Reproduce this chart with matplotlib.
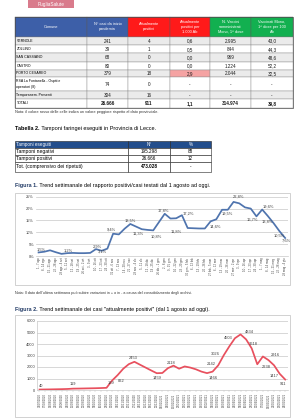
import numpy as np
import matplotlib.pyplot as plt
import pandas as pd
from matplotlib.patches import Rectangle

plt.rcParams['font.family'] = ['Liberation Sans', 'DejaVu Sans']

# ---- table 1 ----
hdr1 = ["Comune", "N° casi da inizio\npandemia", "Attualmente\npositivi",
        "Attualmente\npositivi per\n1.000 Ab", "N. Vaccini\nsomministrati\nMono, 1^ dose",
        "Vaccinati Mono,\n1^ dose per 100\nAb"]
comuni = ["VERNOLE", "ZOLLINO", "SAN CASSIANO", "CASTRO", "PORTO CESAREO",
          "RSA La Fontanella - Ospiti e\noperatori (8)", "Temporanem. Presenti", "TOTALI"]
casi = ["241", "39", "68", "80", "379", "74", "304", "26.666"]
attuali = ["4", "1", "0", "0", "18", "0", "16", "911"]
per1000 = ["0,6", "0,5", "0,0", "0,0", "2,9", "-", "-", "1,1"]
vaccini = ["2.995", "844", "969", "1.224", "2.044", "-", "-", "314.974"]
per100 = ["43,0", "44,3", "48,6", "52,2", "32,5", "-", "-", "39,8"]

# ---- table 2 ----
hdr2 = ["Tamponi eseguiti", "N°", "%"]
tamp_voci = ["Tamponi negativi", "Tamponi positivi", "Tot. (comprensivo dei ripetuti)"]
tamp_n = ["195.298", "26.666", "473.028"]
tamp_pct = ["88", "12", "-"]

# ---- figure 1: weekly positive rate (%) ----
settimane = ["1 - 7 ago", "8 - 14 ago", "15 - 21 ago", "22 - 28 ago", "29 ago - 4 set",
             "5 - 11 set", "12 - 18 set", "19 - 25 set", "26 set - 2 ott", "3 - 9 ott",
             "10 - 16 ott", "17 - 23 ott", "24 - 30 ott", "31 ott - 6 nov", "7 - 13 nov",
             "14 - 20 nov", "21 - 27 nov", "28 nov - 4 dic", "5 - 11 dic", "12 - 18 dic",
             "19 - 25 dic", "26 dic - 1 gen", "2 - 8 gen", "9 - 15 gen", "16 - 22 gen",
             "23 - 29 gen", "30 gen - 5 feb", "6 - 12 feb", "13 - 19 feb", "20 - 26 feb",
             "27 feb - 5 mar", "6 - 12 mar", "13 - 19 mar", "20 - 26 mar", "27 mar - 2 apr",
             "3 - 9 apr", "10 - 16 apr", "17 - 23 apr", "24 - 30 apr", "1 - 7 mag",
             "8 - 14 mag", "15 - 21 mag", "22 - 28 mag", "29 mag - 4 giu"]
tasso = [1.5, 1.8, 2.4, 1.6, 0.9, 1.2, 1.3, 1.2, 1.2, 1.3, 2.9, 2.2, 3.1, 9.4, 9.1,
         11.5, 13.5, 12.4, 11.3, 11.0, 10.8, 14.3, 17.8, 15.8, 15.9, 17.2, 11.8, 11.7,
         11.6, 11.6, 14.6, 15.5, 19.5, 19.5, 22.8, 22.2, 20.5, 20.0, 16.7, 19.6, 16.8,
         13.8, 10.5, 7.6]

# ---- figure 2: currently positive cases ----
date2 = pd.date_range("2020-07-31", periods=45, freq="7D").strftime("%d/%m/%Y")
attualmente = [40, 48, 55, 65, 75, 90, 119, 125, 135, 145, 155, 170, 189, 822, 1300,
               1850, 2250, 2453, 2200, 1950, 1700, 1459, 1480, 1900, 2118, 1850, 2050,
               1950, 1800, 1600, 1466, 1600, 2142, 3026, 3800, 4503, 4834, 4400, 3618,
               2238, 2916, 2600, 2150, 1417, 911]

W, H = 302, 420
fig = plt.figure(figsize=(W / 100, H / 100), dpi=100)
bg = fig.add_axes([0, 0, 1, 1])
bg.set_xlim(0, W)
bg.set_ylim(H, 0)
bg.axis('off')


def px_axes(x0, y0, x1, y1):
    return fig.add_axes([x0 / W, 1 - y1 / H, (x1 - x0) / W, (y1 - y0) / H])


def cell(x0, y0, x1, y1, fc='none', ec='#8C8C8C', lw=0.3):
    bg.add_patch(Rectangle((x0, y0), x1 - x0, y1 - y0, facecolor=fc, edgecolor=ec, lw=lw))


# logo
bg.add_patch(Rectangle((28, 0), 46, 8, facecolor='#D97B8C', edgecolor='none'))
bg.text(51, 4.3, "PugliaSalute", color='white', fontsize=3.4, ha='center', va='center')

# table 1
cx = [15, 87, 128, 170, 210, 251, 293]
ry = [16.7, 36.8, 45, 53.3, 61.6, 69.9, 76.7, 91.3, 98.7, 108]
hcol = ['#3D5FA8', '#3D5FA8', '#FF1A1A', '#FF1A1A', '#12B050', '#12B050']
for j in range(6):
    cell(cx[j], ry[0], cx[j + 1], ry[1], fc=hcol[j], ec='#5A5A5A')
    bg.text((cx[j] + cx[j + 1]) / 2, (ry[0] + ry[1]) / 2, hdr1[j], color='white',
            fontsize=2.8, ha='center', va='center', linespacing=1.35)
cols = [casi, attuali, per1000, vaccini, per100]
for i in range(len(comuni)):
    y0, y1 = ry[i + 1], ry[i + 2]
    fc = '#EBEBEB' if i % 2 == 0 else 'white'
    cell(cx[0], y0, cx[1], y1, fc=fc)
    bold = 'bold' if comuni[i] == "TOTALI" else 'normal'
    bg.text(cx[0] + 1.5, (y0 + y1) / 2, comuni[i], fontsize=2.5, va='center',
            linespacing=1.5)
    for j, col in enumerate(cols):
        cfc = fc
        if comuni[i] == "PORTO CESAREO" and j == 2:
            cfc = '#F5A3A3'
        cell(cx[j + 1], y0, cx[j + 2], y1, fc=cfc)
        bg.text((cx[j + 1] + cx[j + 2]) / 2, (y0 + y1) / 2 + 0.3, col[i], fontsize=3.3,
                ha='center', va='center', fontweight=bold, color='#1A1A1A')
bg.add_patch(Rectangle((cx[0], ry[0]), cx[-1] - cx[0], ry[-1] - ry[0], facecolor='none',
                       edgecolor='#4D4D4D', lw=0.5))

bg.text(15, 111.5, "Nota: il colore rosso delle celle indica un valore peggiore rispetto al dato provinciale.",
        fontsize=2.8, va='center', color='#333333')

t = bg.text(15, 128.5, "Tabella 2.", fontsize=4.0, fontweight='bold', va='center')
bg.annotate(" Tamponi faringei eseguiti in Provincia di Lecce.", xy=(1, 0.5),
            xycoords=t, fontsize=4.0, va='center')

# table 2
cx2 = [15, 128, 170, 211]
ry2 = [141, 148, 155, 162, 171.5]
for j in range(3):
    cell(cx2[j], ry2[0], cx2[j + 1], ry2[1], fc='#234E8C', ec='#222222', lw=0.4)
    if j == 0:
        bg.text(cx2[0] + 1, (ry2[0] + ry2[1]) / 2, hdr2[j], color='white', fontsize=3.3,
                va='center')
    else:
        bg.text((cx2[j] + cx2[j + 1]) / 2, (ry2[0] + ry2[1]) / 2, hdr2[j], color='white',
                fontsize=3.3, ha='center', va='center')
for i in range(3):
    y0, y1 = ry2[i + 1], ry2[i + 2]
    for j in range(3):
        cell(cx2[j], y0, cx2[j + 1], y1, fc='white', ec='#222222', lw=0.4)
    bg.text(cx2[0] + 1, (y0 + y1) / 2, tamp_voci[i], fontsize=3.6, va='center')
    bg.text((cx2[1] + cx2[2]) / 2, (y0 + y1) / 2, tamp_n[i], fontsize=3.3, ha='center',
            va='center', fontweight='bold' if i == 2 else 'normal')
    bg.text((cx2[2] + cx2[3]) / 2, (y0 + y1) / 2, tamp_pct[i], fontsize=3.3, ha='center',
            va='center')

t = bg.text(15, 185, "Figura 1.", fontsize=3.9, fontweight='bold', va='center', color='#1F3864')
bg.annotate(" Trend settimanale del rapporto positivi/casi testati dal 1 agosto ad oggi.",
            xy=(1, 0.5), xycoords=t, fontsize=3.9, va='center')

# chart 1
bg.add_patch(Rectangle((15, 193), 275, 92, facecolor='white', edgecolor='#BFBFBF', lw=0.5))
ax1 = px_axes(35.7, 196.7, 288, 256)
x1 = np.arange(len(tasso))
ax1.plot(x1, tasso, color='#4F74AE', lw=1.25, solid_joinstyle='round')
ax1.set_xlim(-0.5, len(tasso) - 0.5)
ax1.set_ylim(0, 25)
ax1.set_yticks([0, 5, 10, 15, 20, 25])
ax1.set_yticklabels([f"{v}%" for v in [0, 5, 10, 15, 20, 25]], fontsize=2.8, color='#404040')
ax1.set_xticks(x1)
ax1.set_xticklabels(settimane, rotation=90, fontsize=2.0, color='#404040')
ax1.tick_params(length=0, pad=1.2)
ax1.grid(axis='y', color='#C8C8C8', lw=0.5)
ax1.set_axisbelow(True)
for s in ['top', 'right', 'left']:
    ax1.spines[s].set_visible(False)
ax1.spines['bottom'].set_color('#C8C8C8')
ax1.spines['bottom'].set_linewidth(0.5)
lab1 = {0: (3, 3), 5: (1, 3), 10: (1, 3), 12: (-5, -3), 13: (-1.5, 4), 16: (0, 3),
        18: (-3.5, -4), 20: (3, -6), 22: (-1.5, 3), 25: (6, 2), 26: (-11, -4),
        30: (5, -5), 32: (5, -4), 34: (4.5, 5), 38: (-4.5, -3.3), 39: (6, 2.5),
        41: (-6.5, 1.5), 42: (-0.5, -4), 43: (1.5, -2.5)}
for i, (dx, dy) in lab1.items():
    ax1.annotate(f"{tasso[i]:.1f}%".replace('.', ','), (x1[i], tasso[i]),
                 xytext=(dx, dy), textcoords='offset pixels', ha='center', va='center',
                 fontsize=2.9, color='#404040', annotation_clip=False)

bg.text(15, 292.7, "Nota: Il dato dell'ultima settimana può subire variazioni in + o in - a causa del consolidamento degli archivi.",
        fontsize=2.7, va='center', color='#333333')

t = bg.text(15, 309, "Figura 2.", fontsize=3.9, fontweight='bold', va='center', color='#1F3864')
bg.annotate(' Trend settimanale dei casi "attualmente positivi" (dal 1 agosto ad oggi).',
            xy=(1, 0.5), xycoords=t, fontsize=3.9, va='center')

# chart 2
bg.add_patch(Rectangle((15, 315), 275, 102, facecolor='white', edgecolor='#BFBFBF', lw=0.5))
ax2 = px_axes(36.7, 321, 288, 390)
x2 = np.arange(len(attualmente))
ax2.plot(x2, attualmente, color='#E8505E', lw=1.25, solid_joinstyle='round')
ax2.set_xlim(-0.5, len(attualmente) - 0.5)
ax2.set_ylim(0, 6000)
ax2.set_yticks(range(0, 7000, 1000))
ax2.set_yticklabels([str(v) for v in range(0, 7000, 1000)], fontsize=2.9, color='#404040')
ax2.set_xticks(x2)
ax2.set_xticklabels(date2, rotation=90, fontsize=2.0, color='#404040')
ax2.tick_params(length=0, pad=1.2)
ax2.tick_params(axis='x', length=1.2, width=0.3, color='#BFBFBF')
ax2.grid(axis='y', color='#C8C8C8', lw=0.5)
ax2.set_axisbelow(True)
for s in ['top', 'right']:
    ax2.spines[s].set_visible(False)
for s in ['bottom', 'left']:
    ax2.spines[s].set_color('#C8C8C8')
    ax2.spines[s].set_linewidth(0.5)
lab2 = {0: (2, 4), 6: (0, 4.5), 12: (5, 4.5), 13: (9, 0), 17: (-1, 4), 21: (0, -5),
        24: (-2, 3), 30: (6, -4.5), 32: (-6.5, 1.5), 33: (-8.5, 1), 35: (-7, 0.5),
        36: (9, 2), 38: (2, 4), 39: (9, -3), 40: (12, 1.5), 43: (-5, -2.5), 44: (-2.5, -4)}
for i, (dx, dy) in lab2.items():
    ax2.annotate(str(attualmente[i]), (x2[i], attualmente[i]), xytext=(dx, dy),
                 textcoords='offset pixels', ha='center', va='center', fontsize=2.9,
                 color='#404040', annotation_clip=False)

fig.savefig("out.png", dpi=100)
